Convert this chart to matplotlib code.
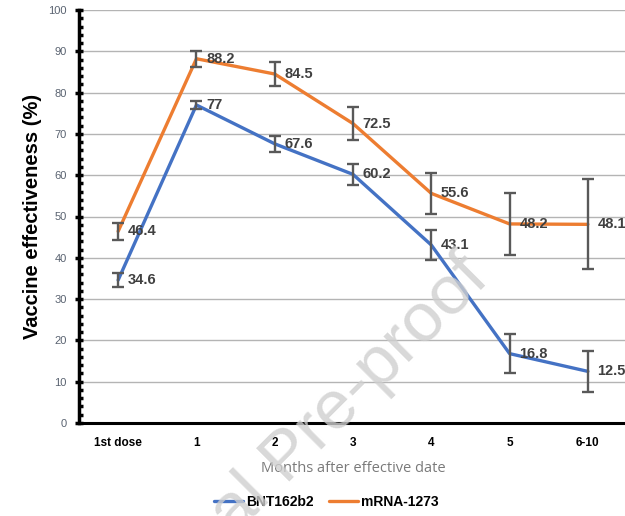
import matplotlib
matplotlib.use("Agg")
import matplotlib.pyplot as plt
from matplotlib.ticker import MultipleLocator
from matplotlib import font_manager

names = {f.name for f in font_manager.fontManager.ttflist}
ARIAL = "Liberation Sans"
NARROW = "Liberation Sans Narrow" if "Liberation Sans Narrow" in names else ARIAL

categories = ["1st dose", "1", "2", "3", "4", "5", "6-10"]
bnt = [34.6, 77, 67.6, 60.2, 43.1, 16.8, 12.5]
bnt_err = [1.7, 1.0, 2.0, 2.5, 3.6, 4.8, 5.0]
mrna = [46.4, 88.2, 84.5, 72.5, 55.6, 48.2, 48.1]
mrna_err = [2.0, 1.9, 2.8, 3.9, 5.0, 7.6, 10.9]
series_names = ["BNT162b2", "mRNA-1273"]
colors = ["#4472C4", "#ED7D31"]

fig = plt.figure(figsize=(6.25, 5.16), dpi=100)
ax = fig.add_axes([79/625, 93/516, 548/625, 413/516])

x = list(range(len(categories)))
handles = []
for vals, errs, col, name in [(bnt, bnt_err, colors[0], series_names[0]),
                              (mrna, mrna_err, colors[1], series_names[1])]:
    h, = ax.plot(x, vals, color=col, lw=2.4, solid_capstyle="round",
                 solid_joinstyle="round", zorder=3, label=name)
    handles.append(h)
    ax.errorbar(x, vals, yerr=errs, fmt="none", ecolor="#595959",
                elinewidth=1.7, capsize=4, capthick=1.7, zorder=4)
    for xi, v in zip(x, vals):
        ax.annotate(f"{v:g}", (xi, v), xytext=(7, 0), textcoords="offset points",
                    ha="left", va="center", fontsize=10.5, fontweight="bold",
                    family=NARROW, color="#404040", zorder=5)

ax.set_xlim(-0.5, len(categories) - 0.5)
ax.set_ylim(0, 100)
ax.yaxis.set_major_locator(MultipleLocator(10))
ax.yaxis.set_minor_locator(MultipleLocator(2))
ax.grid(axis="y", color="#b4b4b4", lw=1.0, zorder=0)
ax.set_axisbelow(True)

ax.set_xticks(x)
ax.set_xticklabels(categories, fontsize=8.5, fontweight="bold", family=NARROW, color="black")
ax.tick_params(axis="x", length=0, pad=10)
ax.tick_params(axis="y", which="major", direction="inout", length=6, width=2.5,
               labelsize=8, labelcolor="#596270", pad=6)
ax.tick_params(axis="y", which="minor", direction="in", length=3, width=2.5)
for lab in ax.get_yticklabels():
    lab.set_family(ARIAL)

for s in ["top", "right"]:
    ax.spines[s].set_visible(False)
ax.spines["left"].set_linewidth(2.5)
ax.spines["bottom"].set_linewidth(2.2)

ax.set_ylabel("Vaccine effectiveness (%)", fontsize=14.5, fontweight="bold",
              family=ARIAL, color="black", labelpad=4)
ax.set_xlabel("Months after effective date", fontsize=10.5, family="Open Sans",
              color="#7a7a7a", labelpad=9)

fig.legend(handles=handles, labels=series_names, loc="center",
           bbox_to_anchor=(326/625, 1 - 502/516), ncol=2, frameon=False,
           prop={"family": NARROW, "weight": "bold", "size": 10},
           handlelength=2.1, handletextpad=0.2, columnspacing=1.1)

fig.text(455/625, 1 - 245/516, "Journal Pre-proof", fontsize=50, color="#cfcfcf",
         alpha=0.8, rotation=45, ha="right", va="top", rotation_mode="anchor",
         family=ARIAL, zorder=10)

fig.savefig("out.png", dpi=100)
